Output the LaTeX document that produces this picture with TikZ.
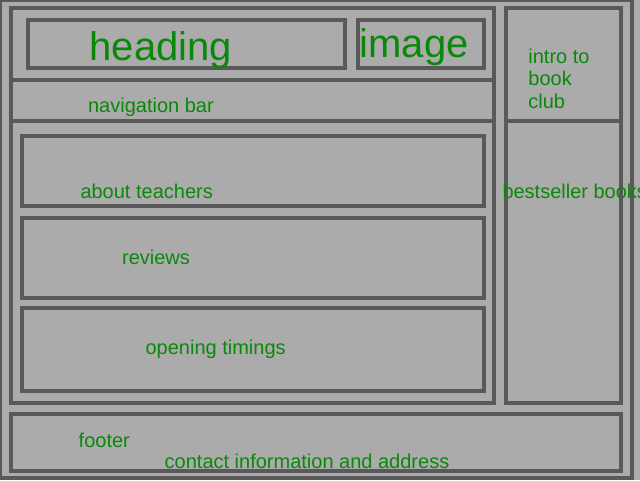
\documentclass[tikz,border=0pt]{standalone}
\usepackage{fontspec}
\setmainfont{Liberation Sans}
\definecolor{pagebg}{RGB}{171,171,171}
\definecolor{frameline}{RGB}{89,89,89}
\definecolor{labelgreen}{RGB}{10,136,10}
\begin{document}
\begin{tikzpicture}[x=1pt,y=-1pt,
  panel/.style={draw=frameline,line width=4pt},
  label/.style={text=labelgreen,inner sep=0pt,anchor=base west,
    font=\fontsize{20}{23}\selectfont},
  biglabel/.style={label,font=\fontsize{40}{46}\selectfont}]
  % page area and background
  \useasboundingbox (0,0) rectangle (640,480);
  \fill[pagebg] (0,0) rectangle (640,480);
  \draw[panel] (0,0) rectangle (632,478);

  % main column
  \draw[panel] (11,8) rectangle (494,403);
  \draw[panel] (11,80) -- (494,80);
  \draw[panel] (11,121) -- (494,121);
  \draw[panel] (28,20) rectangle (345,68);
  \draw[panel] (358,20) rectangle (484,67.5);
  \draw[panel] (22,136) rectangle (484,206);
  \draw[panel] (22,218) rectangle (484,297.5);
  \draw[panel] (22,308) rectangle (484,390.5);

  % side column
  \draw[panel] (506,8) rectangle (621,403);
  \draw[panel] (506,121) -- (621,121);

  % footer
  \draw[panel] (11,414) rectangle (621,471);

  % labels
  \node[biglabel] (heading) at (89.5,60.5) {heading};
  \node[biglabel] (image) at (359.5,57.5) {image};
  \node[label] (nav) at (87.9,112) {navigation bar};
  \node[label] (intro1) at (528.2,63) {intro to};
  \node[label] (intro2) at (528.2,85.5) {book};
  \node[label] (intro3) at (528.2,108.5) {club};
  \node[label] (teachers) at (80.3,198) {about teachers};
  \node[label] (bestseller) at (502.3,198) {bestseller books};
  \node[label] (reviews) at (121.9,264) {reviews};
  \node[label] (timings) at (145.4,354.5) {opening timings};
  \node[label] (footer) at (78.5,447) {footer};
  \node[label] (contact) at (164.5,468.5) {contact information and address};
\end{tikzpicture}
\end{document}
